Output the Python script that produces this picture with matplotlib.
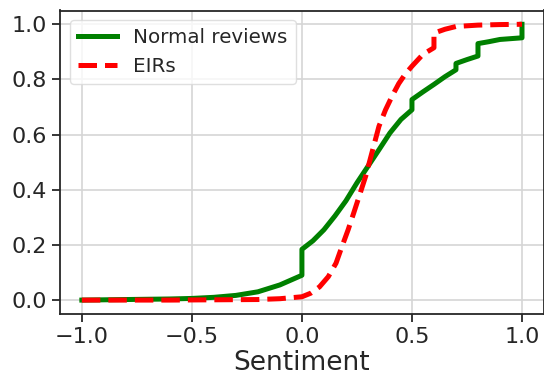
import numpy as np
import matplotlib.pyplot as plt

# CDF of review sentiment scores
normal_x = [-1.0, -0.8, -0.6, -0.5, -0.4, -0.3, -0.2, -0.1, 0.0, 0.0, 0.05, 0.1, 0.15, 0.2,
            0.25, 0.29, 0.35, 0.4, 0.45, 0.5, 0.5, 0.55, 0.6, 0.65, 0.7, 0.7, 0.75, 0.8,
            0.8, 0.85, 0.9, 0.95, 1.0, 1.0]
normal_y = [0.0, 0.002, 0.004, 0.006, 0.01, 0.017, 0.03, 0.055, 0.09, 0.184, 0.215, 0.255,
            0.305, 0.36, 0.425, 0.473, 0.545, 0.606, 0.655, 0.69, 0.727, 0.755, 0.782,
            0.81, 0.835, 0.858, 0.872, 0.885, 0.93, 0.937, 0.945, 0.948, 0.951, 1.0]

eir_x = [-1.0, -0.8, -0.6, -0.4, -0.2, -0.1, 0.0, 0.04, 0.08, 0.12, 0.155, 0.18, 0.21,
         0.235, 0.26, 0.29, 0.32, 0.35, 0.38, 0.41, 0.44, 0.47, 0.5, 0.55, 0.6, 0.6,
         0.65, 0.7, 0.8, 0.9, 1.0]
eir_y = [0.0, 0.0, 0.0, 0.001, 0.002, 0.005, 0.012, 0.025, 0.048, 0.085, 0.134, 0.19,
         0.255, 0.315, 0.376, 0.45, 0.54, 0.63, 0.69, 0.74, 0.785, 0.82, 0.848, 0.891,
         0.915, 0.968, 0.982, 0.992, 0.997, 0.999, 1.0]

plt.rcParams['font.family'] = ['DejaVu Sans']

fig, ax = plt.subplots(figsize=(5.44, 3.75), dpi=100)
fig.subplots_adjust(left=0.11, right=1.0, top=0.972, bottom=0.163)

ax.plot(normal_x, normal_y, color='green', linewidth=3.6, label='Normal reviews')
ax.plot(eir_x, eir_y, color='red', linewidth=3.6, linestyle='--', label='EIRs')

ax.set_xlim(-1.1, 1.1)
ax.set_ylim(-0.05, 1.05)
ax.set_xticks([-1.0, -0.5, 0.0, 0.5, 1.0])
ax.set_yticks([0.0, 0.2, 0.4, 0.6, 0.8, 1.0])
ax.grid(True, color='#d5d5d5', linewidth=1.2)
ax.set_axisbelow(True)
for s in ax.spines.values():
    s.set_color('#262626')
    s.set_linewidth(1.3)
ax.tick_params(axis='both', labelsize=16, colors='#262626', length=6, width=1.3)
ax.set_xlabel('Sentiment', fontsize=19, color='#262626', labelpad=2)

leg = ax.legend(loc='upper left', fontsize=14.3, frameon=True, handlelength=2.0,
                labelspacing=0.5, borderaxespad=0.5)
leg.get_frame().set_edgecolor('#d8d8d8')
leg.get_frame().set_linewidth(1.0)
for t in leg.get_texts():
    t.set_color('#262626')

fig.savefig('out.png', dpi=100)
plt.close(fig)
